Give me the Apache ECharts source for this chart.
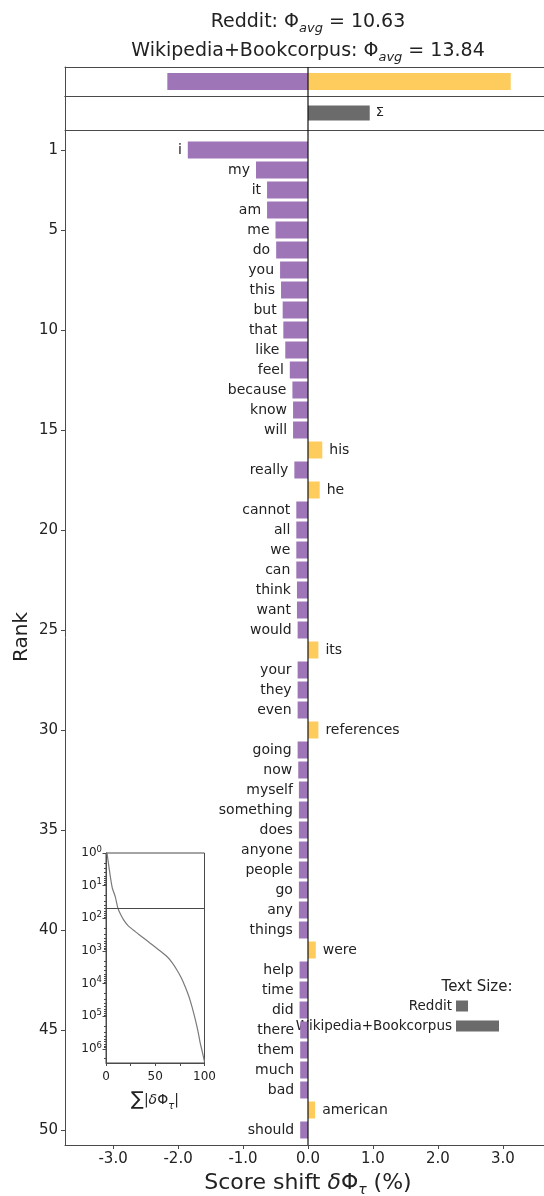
<!DOCTYPE html>
<html>
<head>
<meta charset="utf-8">
<title>Word shift: Reddit vs Wikipedia+Bookcorpus</title>
<script src="https://cdn.jsdelivr.net/npm/echarts@6/dist/echarts.min.js"></script>
<style>
  html, body { margin: 0; padding: 0; background: #ffffff; }
  #chart { width: 544px; height: 1196px; }
</style>
</head>
<body>
<div id="chart"></div>
<script>
// ---- data ----
const words = ['i', 'my', 'it', 'am', 'me', 'do', 'you', 'this', 'but', 'that',
  'like', 'feel', 'because', 'know', 'will', 'his', 'really', 'he', 'cannot', 'all',
  'we', 'can', 'think', 'want', 'would', 'its', 'your', 'they', 'even', 'references',
  'going', 'now', 'myself', 'something', 'does', 'anyone', 'people', 'go', 'any', 'things',
  'were', 'help', 'time', 'did', 'there', 'them', 'much', 'bad', 'american', 'should'];
const shifts = [-1.85, -0.80, -0.63, -0.63, -0.50, -0.49, -0.43, -0.415, -0.39, -0.38,
  -0.35, -0.28, -0.24, -0.23, -0.23, 0.22, -0.21, 0.18, -0.18, -0.18,
  -0.18, -0.18, -0.17, -0.17, -0.16, 0.16, -0.16, -0.16, -0.16, 0.16,
  -0.16, -0.15, -0.14, -0.14, -0.14, -0.14, -0.14, -0.14, -0.14, -0.14,
  0.12, -0.13, -0.13, -0.13, -0.12, -0.12, -0.12, -0.12, 0.11, -0.12];
const rankTicks = [1, 5, 10, 15, 20, 25, 30, 35, 40, 45, 50];
const shiftTicks = [-3, -2, -1, 0, 1, 2, 3];
const totalsBySign = [-2.165, 3.12];   // summed negative / positive contributions
const totalShift = [0.95];             // overall sum, Σ
const avgReddit = 10.63;
const avgWiki = 13.84;
const textSizeLabels = ['Reddit', 'Wikipedia+Bookcorpus'];
const textSizes = [0.28, 1.0];
// cumulative |δΦ| (%) against rank
const cumulative = [[1.0, 1], [2.3, 1.9], [4.4, 5.3], [6.4, 11.8], [9.4, 21.8], [12.1, 49],
  [14.5, 73], [17.9, 112], [22.6, 171], [29.7, 256], [36.8, 372], [44.9, 580], [53.0, 900],
  [61.9, 1480], [67.3, 2330], [72.0, 3830], [76.4, 6600], [80.4, 12400], [84.0, 23900],
  [87.2, 50000], [90.0, 105000], [92.3, 204000], [94.1, 370000], [95.6, 650000],
  [97.7, 1200000], [100, 2500000]];
const insetShiftTicks = [0, 25, 50, 75, 100];
const insetShiftLabels = [0, 50, 100];
const insetRankTicks = [1, 10, 100, 1000, 10000, 100000, 1000000];

// ---- styling ----
const FONT = 'DejaVu Sans';
const PURPLE = '#9E75B7';
const YELLOW = '#FECC5D';
const GREY = '#6b6b6b';
const SPINE = '#4a4a4a';
const TEXT = '#222222';
// the shift axis runs symmetric about zero; its right end lies past the page edge
const XMIN = -3.74, XMAX = 3.74;
const PLOT_LEFT = 65, PLOT_WIDTH = 486;

const ranks = words.map((_, i) => String(i + 1));
const negShifts = shifts.map(v => (v < 0 ? v : null));
const posShifts = shifts.map(v => (v > 0 ? v : null));

const minorRankTicks = [];
for (let e = 0; e <= 6; e++) {
  for (let m = 2; m <= 9; m++) minorRankTicks.push(m * Math.pow(10, e));
}

function hiddenValueAxis(gridIndex, min, max) {
  return { type: 'value', gridIndex, min, max, show: false, splitLine: { show: false } };
}

function frameAxes(gridIndex) {
  // top and bottom edges of a framed strip
  return ['top', 'bottom'].map(pos => ({
    type: 'value', gridIndex, min: XMIN, max: XMAX, position: pos,
    splitLine: { show: false }, axisTick: { show: false }, axisLabel: { show: false },
    axisLine: { show: true, onZero: false, lineStyle: { color: SPINE, width: 1 } }
  }));
}

function makeGrid(left, top, width, height, framed) {
  const g = { left, top, width, height, outerBoundsMode: 'none', containLabel: false };
  if (framed) Object.assign(g, { show: true, borderColor: SPINE, borderWidth: 1 });
  return g;
}

const xAxes = [
  ...frameAxes(0),
  ...frameAxes(1),
  {
    type: 'value', gridIndex: 2, min: XMIN, max: XMAX, position: 'bottom',
    splitLine: { show: false },
    axisLine: { show: true, onZero: false, lineStyle: { color: SPINE, width: 1 } },
    axisTick: { show: true, customValues: shiftTicks, length: 4, lineStyle: { color: SPINE } },
    axisLabel: {
      customValues: shiftTicks, margin: 7, fontSize: 15, color: TEXT, fontFamily: FONT,
      formatter: v => v.toFixed(1)
    }
  },
  hiddenValueAxis(3, XMIN, XMAX),
  hiddenValueAxis(4, XMIN, XMAX),
  {
    type: 'value', gridIndex: 5, min: 0, max: 100, position: 'bottom',
    splitLine: { show: false },
    axisLine: { show: true, onZero: false, lineStyle: { color: SPINE } },
    axisTick: { show: true, customValues: insetShiftTicks, length: 3, lineStyle: { color: SPINE } },
    axisLabel: { customValues: insetShiftLabels, margin: 8, fontSize: 12, color: TEXT, fontFamily: FONT }
  },
  hiddenValueAxis(6, 0, 1)
];
// index lookup: 0,1 -> strip 0 ; 2,3 -> strip 1 ; 4 main ; 5 bars ; 6 zero line ; 7 inset ; 8 legend

const option = {
  animation: false,
  backgroundColor: '#ffffff',
  textStyle: { fontFamily: FONT },
  grid: [
    makeGrid(PLOT_LEFT, 67, PLOT_WIDTH, 29),     // 0: Σ by sign
    makeGrid(PLOT_LEFT, 96, PLOT_WIDTH, 34),     // 1: overall Σ
    makeGrid(PLOT_LEFT, 130, PLOT_WIDTH, 1015),  // 2: main axes (spines, ticks, labels)
    makeGrid(PLOT_LEFT, 140, PLOT_WIDTH, 1000),  // 3: word bars
    makeGrid(PLOT_LEFT, 67, PLOT_WIDTH, 1078),   // 4: zero reference line across all panels
    makeGrid(106, 853, 98.5, 210, true),         // 5: cumulative inset
    makeGrid(456, 996, 43, 40)                   // 6: text size legend
  ],
  xAxis: xAxes,
  yAxis: [
    {
      type: 'category', gridIndex: 0, data: ['sign'], position: 'left',
      axisTick: { show: false }, axisLabel: { show: false },
      axisLine: { show: true, onZero: false, lineStyle: { color: SPINE, width: 1 } }
    },
    {
      type: 'category', gridIndex: 1, data: ['sum'], position: 'left',
      axisTick: { show: false }, axisLabel: { show: false },
      axisLine: { show: true, onZero: false, lineStyle: { color: SPINE, width: 1 } }
    },
    {
      type: 'value', gridIndex: 2, min: 0, max: 50.75, inverse: true, position: 'left',
      splitLine: { show: false },
      axisLine: { show: true, onZero: false, lineStyle: { color: SPINE, width: 1 } },
      axisTick: { show: true, customValues: rankTicks, length: 4, lineStyle: { color: SPINE } },
      axisLabel: { customValues: rankTicks, margin: 7, fontSize: 15, color: TEXT, fontFamily: FONT }
    },
    { type: 'category', gridIndex: 3, data: ranks, inverse: true, show: false },
    hiddenValueAxis(4, 0, 1),
    {
      type: 'log', gridIndex: 5, logBase: 10, min: 1, max: 2700000, inverse: true, position: 'left',
      splitLine: { show: false },
      axisLine: { show: true, onZero: false, lineStyle: { color: SPINE } },
      axisTick: { show: true, customValues: insetRankTicks, length: 3.5, lineStyle: { color: SPINE } },
      axisLabel: {
        customValues: insetRankTicks, margin: 4, color: TEXT, fontFamily: FONT,
        formatter: v => '{b|10}{s|' + Math.round(Math.log10(v)) + '}',
        rich: {
          b: { fontSize: 12, lineHeight: 16, color: TEXT, fontFamily: FONT },
          s: { fontSize: 8.5, lineHeight: 8, verticalAlign: 'top', color: TEXT, fontFamily: FONT }
        }
      }
    },
    {
      type: 'log', gridIndex: 5, logBase: 10, min: 1, max: 2700000, inverse: true,
      position: 'left', offset: 0,
      splitLine: { show: false },
      axisLine: { show: false, onZero: false },
      axisTick: { show: true, customValues: minorRankTicks, length: 2, lineStyle: { color: SPINE } },
      axisLabel: { show: false }
    },
    {
      type: 'category', gridIndex: 6, data: textSizeLabels, inverse: true,
      axisLine: { show: false }, axisTick: { show: false },
      axisLabel: { margin: 4, fontSize: 13.5, color: TEXT, fontFamily: FONT }
    }
  ],
  series: [
    {
      type: 'bar', xAxisIndex: 1, yAxisIndex: 0, barWidth: 17, barGap: '-100%',
      data: [totalsBySign[0]], itemStyle: { color: PURPLE }
    },
    {
      type: 'bar', xAxisIndex: 1, yAxisIndex: 0, barWidth: 17, barGap: '-100%',
      data: [totalsBySign[1]], itemStyle: { color: YELLOW }
    },
    {
      type: 'bar', xAxisIndex: 3, yAxisIndex: 1, barWidth: 15,
      data: totalShift, itemStyle: { color: GREY },
      label: { show: true, position: 'right', distance: 6, formatter: 'Σ', fontSize: 13, color: TEXT, fontFamily: FONT }
    },
    {
      type: 'bar', xAxisIndex: 5, yAxisIndex: 3, barWidth: 17, barGap: '-100%',
      data: negShifts, itemStyle: { color: PURPLE },
      label: {
        show: true, position: 'left', distance: 6, fontSize: 14, color: TEXT, fontFamily: FONT,
        formatter: p => words[p.dataIndex]
      }
    },
    {
      type: 'bar', xAxisIndex: 5, yAxisIndex: 3, barWidth: 17, barGap: '-100%',
      data: posShifts, itemStyle: { color: YELLOW },
      label: {
        show: true, position: 'right', distance: 7, fontSize: 14, color: TEXT, fontFamily: FONT,
        formatter: p => words[p.dataIndex]
      }
    },
    {
      type: 'line', xAxisIndex: 6, yAxisIndex: 4, symbol: 'none', silent: true,
      data: [[0, 0], [0, 1]], lineStyle: { color: '#111111', width: 1.2 }, z: 5
    },
    {
      type: 'line', xAxisIndex: 7, yAxisIndex: 5, symbol: 'none', smooth: 0.2,
      data: cumulative, lineStyle: { color: '#7a7a7a', width: 1.2 },
      markLine: {
        silent: true, symbol: 'none', label: { show: false },
        lineStyle: { color: SPINE, width: 1, type: 'solid' },
        data: [{ yAxis: words.length }]
      }
    },
    {
      type: 'bar', xAxisIndex: 8, yAxisIndex: 7, barWidth: 11,
      data: textSizes, itemStyle: { color: GREY }
    }
  ],
  graphic: [
    {
      type: 'text', x: 308, y: 22,
      style: {
        text: '{n|Reddit: Φ}{sub|avg}{n| = ' + avgReddit.toFixed(2) + '}',
        align: 'center', verticalAlign: 'middle',
        rich: {
          n: { fontSize: 19, lineHeight: 26, fill: TEXT, fontFamily: FONT },
          sub: { fontSize: 13, lineHeight: 13, fontStyle: 'italic', verticalAlign: 'bottom', fill: TEXT, fontFamily: FONT }
        }
      }
    },
    {
      type: 'text', x: 308, y: 51,
      style: {
        text: '{n|Wikipedia+Bookcorpus: Φ}{sub|avg}{n| = ' + avgWiki.toFixed(2) + '}',
        align: 'center', verticalAlign: 'middle',
        rich: {
          n: { fontSize: 19, lineHeight: 26, fill: TEXT, fontFamily: FONT },
          sub: { fontSize: 13, lineHeight: 13, fontStyle: 'italic', verticalAlign: 'bottom', fill: TEXT, fontFamily: FONT }
        }
      }
    },
    {
      type: 'text', x: 22, y: 637, rotation: Math.PI / 2,
      style: { text: 'Rank', align: 'center', verticalAlign: 'middle', fontSize: 20, fill: TEXT, fontFamily: FONT }
    },
    {
      type: 'text', x: 308, y: 1183,
      style: {
        text: '{n|Score shift }{i|δ}{n|Φ}{sub|τ}{n| (%)}',
        align: 'center', verticalAlign: 'middle',
        rich: {
          n: { fontSize: 22, lineHeight: 28, fill: TEXT, fontFamily: FONT },
          i: { fontSize: 22, lineHeight: 28, fontStyle: 'italic', fill: TEXT, fontFamily: FONT },
          sub: { fontSize: 14, lineHeight: 14, fontStyle: 'italic', verticalAlign: 'bottom', fill: TEXT, fontFamily: FONT }
        }
      }
    },
    {
      type: 'text', x: 155, y: 1100,
      style: {
        text: '{big|∑}{n||}{i|δ}{n|Φ}{sub|τ}{n||}',
        align: 'center', verticalAlign: 'middle',
        rich: {
          big: { fontSize: 19, lineHeight: 22, fill: TEXT, fontFamily: FONT },
          n: { fontSize: 14, lineHeight: 22, fill: TEXT, fontFamily: FONT },
          i: { fontSize: 14, lineHeight: 22, fontStyle: 'italic', fill: TEXT, fontFamily: FONT },
          sub: { fontSize: 10, lineHeight: 10, fontStyle: 'italic', verticalAlign: 'bottom', fill: TEXT, fontFamily: FONT }
        }
      }
    },
    {
      type: 'text', x: 477, y: 987,
      style: { text: 'Text Size:', align: 'center', verticalAlign: 'middle', fontSize: 15, fill: TEXT, fontFamily: FONT }
    }
  ]
};

const chart = echarts.init(document.getElementById('chart'), null, { renderer: 'canvas' });
chart.setOption(option);
</script>
</body>
</html>
